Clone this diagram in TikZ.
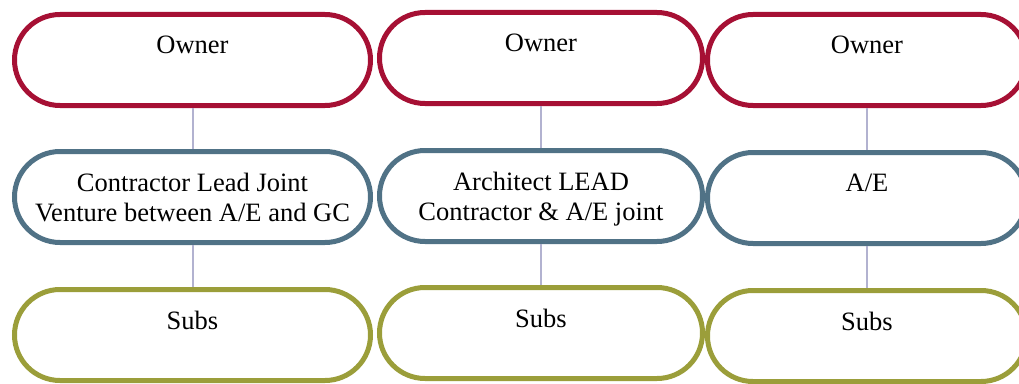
\documentclass[tikz,border=0pt]{standalone}
\usepackage{fontspec}
\setmainfont{Liberation Serif}
\usetikzlibrary{positioning}
\definecolor{ownred}{RGB}{166,16,52}
\definecolor{leadblue}{RGB}{80,114,134}
\definecolor{subolive}{RGB}{155,158,58}
\definecolor{linkgray}{RGB}{178,178,208}
\tikzset{pill/.style={draw,line width=5bp,rounded corners=45.5bp,minimum height=91bp,inner sep=0pt}}
\tikzset{txt/.style={inner sep=0pt,align=center,font=\fontsize{26.5bp}{30bp}\selectfont}}
\tikzset{link/.style={draw=linkgray,line width=2bp}}

\begin{document}
\begin{tikzpicture}[x=1bp,y=1bp]
        \useasboundingbox (0,0) rectangle (1019,383);

        % first column
        \node[pill,draw=ownred,minimum width=356bp] (own1) at (192.5,323) {};
        \node[pill,draw=leadblue,minimum width=356bp] (lead1) at (192.5,186) {};
        \node[pill,draw=subolive,minimum width=356bp] (subs1) at (192.5,48) {};

        % second column
        \node[pill,draw=ownred,minimum width=323bp] (own2) at (541,325) {};
        \node[pill,draw=leadblue,minimum width=323bp] (lead2) at (541,187) {};
        \node[pill,draw=subolive,minimum width=323bp] (subs2) at (541,50) {};

        % third column
        \node[pill,draw=ownred,minimum width=319bp] (own3) at (867,323) {};
        \node[pill,draw=leadblue,minimum width=319bp] (lead3) at (867,185) {};
        \node[pill,draw=subolive,minimum width=319bp] (subs3) at (867,47) {};

        \node[txt,below=24bp of own1.north] (own1t) {Owner};
        \node[txt,below=24bp of lead1.north] (lead1t) {Contractor Lead Joint\\Venture between A/E and GC};
        \node[txt,below=24bp of subs1.north] (subs1t) {Subs};

        \node[txt,below=24bp of own2.north] (own2t) {Owner};
        \node[txt,below=24bp of lead2.north] (lead2t) {Architect LEAD\\Contractor \& A/E joint};
        \node[txt,below=24bp of subs2.north] (subs2t) {Subs};

        \node[txt,below=24bp of own3.north] (own3t) {Owner};
        \node[txt,below=24bp of lead3.north] (lead3t) {A/E};
        \node[txt,below=24bp of subs3.north] (subs3t) {Subs};

        \foreach \i in {1,2,3} {
            \draw[link] (own\i.south) -- (lead\i.north);
            \draw[link] (lead\i.south) -- (subs\i.north);
        }
    \end{tikzpicture}
\end{document}
